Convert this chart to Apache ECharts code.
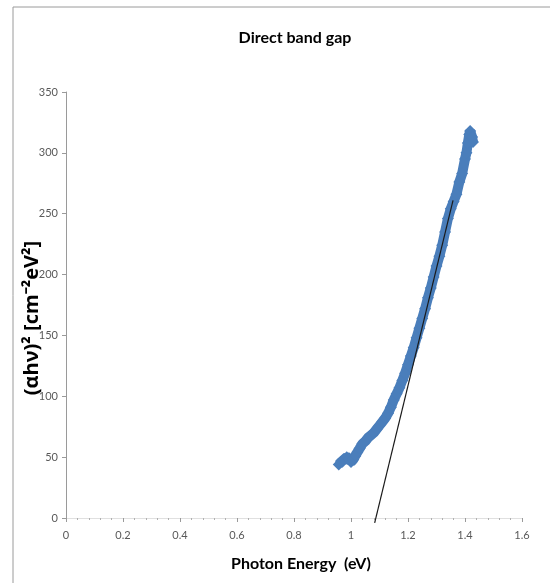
<!DOCTYPE html>
<html>
<head>
<meta charset="utf-8">
<script src="https://cdn.jsdelivr.net/npm/echarts@6/dist/echarts.min.js"></script>
<style>html,body{margin:0;padding:0;background:#fff;}#c{width:550px;height:583px;}</style>
</head>
<body>
<div id="c"></div>
<script>
const titleText = "Direct band gap";
const xName = "Photon Energy  (eV)";
const yName = "(\u03B1h\u03BD)\u00B2 [cm\u207B\u00B2eV\u00B2]";
const energy = [0.957,0.965,0.975,0.985,0.993,1.000,1.008,1.015,1.022,1.030,1.040,1.050,1.060,1.070,1.080,1.090,1.100,1.110,1.120,1.130,1.140,1.150,1.160,1.170,1.180,1.190,1.200,1.210,1.220,1.230,1.240,1.250,1.260,1.270,1.280,1.290,1.300,1.310,1.320,1.330,1.340,1.350,1.360,1.370,1.380,1.390,1.400,1.405,1.410,1.415,1.418,1.425,1.428];
const absorb = [44,46,48,50,49,46,48,51,54,57,61,63,66,68,70,73,76,79,82,86,91,97,102,107,113,119,126,133,140,148,156,164,172,181,189,198,207,215,224,235,246,254,260,266,276,283,295,300,308,315,318,313,309];
const fitX = [1.083, 1.358];
const fitY = [-4, 261];

const bandData = energy.map((e, i) => [e, absorb[i]]);
const fitData = fitX.map((e, i) => [e, fitY[i]]);

const chart = echarts.init(document.getElementById('c'), null, {renderer: 'canvas'});
chart.setOption({
  animation: false,
  backgroundColor: '#fff',
  title: {
    text: titleText, left: 290, top: 25, textAlign: 'center',
    textStyle: {fontFamily: 'Lato', fontWeight: 'bold', fontSize: 16, color: '#000'}
  },
  graphic: [{
    type: 'rect', shape: {x: 13, y: 7, width: 700, height: 700},
    style: {fill: 'none', stroke: '#9a9a9a', lineWidth: 1}, silent: true, z: -1
  }],
  grid: {left: 66, right: 28, top: 92, bottom: 65},
  xAxis: {
    type: 'value', min: 0, max: 1.6, interval: 0.2,
    name: xName, nameLocation: 'middle', nameGap: 38, nameMoveOverlap: false,
    nameTextStyle: {fontFamily: 'Lato', fontWeight: 'bold', fontSize: 16, color: '#000', padding: [0, 0, 0, 14]},
    axisLine: {show: true, lineStyle: {color: '#e0e0e0', width: 1}},
    axisTick: {show: true, length: 4, inside: false, lineStyle: {color: '#9a9a9a'}},
    minorTick: {show: true, splitNumber: 5, length: 2, lineStyle: {color: '#b0b0b0'}},
    axisLabel: {fontFamily: 'Lato', fontSize: 11, color: '#595959', margin: 12,
      formatter: v => String(Math.round(v * 10) / 10)},
    splitLine: {show: false}
  },
  yAxis: {
    type: 'value', min: 0, max: 350, interval: 50,
    name: yName, nameLocation: 'middle', nameGap: 24, nameRotate: 90, nameMoveOverlap: false,
    nameTextStyle: {fontFamily: 'Open Sans', fontWeight: 'bold', fontSize: 20, color: '#000', padding: [0, 26, 0, 0]},
    axisLine: {show: true, lineStyle: {color: '#9a9a9a', width: 1}},
    axisTick: {show: true, length: 4, lineStyle: {color: '#9a9a9a'}},
    axisLabel: {fontFamily: 'Lato', fontSize: 11, color: '#595959', margin: 8},
    splitLine: {show: false}
  },
  series: [
    {
      type: 'line', data: bandData, symbol: 'diamond', symbolSize: 12,
      showSymbol: true,
      itemStyle: {color: '#4a7ebb'},
      lineStyle: {color: '#4a7ebb', width: 10},
      z: 2
    },
    {
      type: 'line', data: fitData, symbol: 'none', clip: false,
      lineStyle: {color: '#1a1a1a', width: 1.2},
      z: 3
    }
  ]
});
</script>
</body>
</html>
